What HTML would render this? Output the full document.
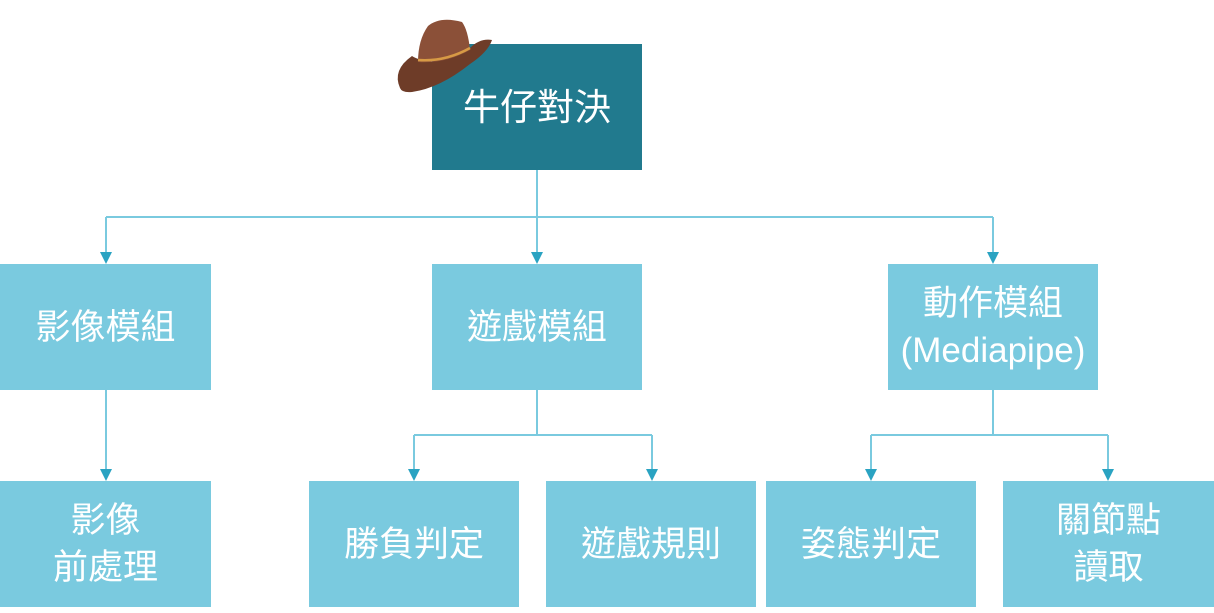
<!DOCTYPE html>
<html><head><meta charset="utf-8"><style>
body{margin:0;width:1214px;height:613px;background:#fff;position:relative;overflow:hidden;font-family:"Liberation Sans","Noto Sans CJK TC",sans-serif}
.b{position:absolute;display:flex;align-items:center;justify-content:center;text-align:center;color:#fff;font-size:35px;line-height:47px;background:#7ACADF}
.d{background:#217A8E;font-size:37px}
svg{position:absolute;left:0;top:0}
</style></head><body>
<svg width="1214" height="613">
<g stroke="#7ACADF" stroke-width="2" fill="none">
<path d="M537 170V255M106 217H993M106 217V255M993 217V255"/>
<path d="M106 390V472"/>
<path d="M537 390V435M414 435H652M414 435V472M652 435V472"/>
<path d="M993 390V435M871 435H1108M871 435V472M1108 435V472"/>
</g>
<g fill="#2AA3C2">
<path d="M100 252h12l-6 12z"/><path d="M531 252h12l-6 12z"/><path d="M987 252h12l-6 12z"/>
<path d="M100 469h12l-6 12z"/><path d="M408 469h12l-6 12z"/><path d="M646 469h12l-6 12z"/>
<path d="M865 469h12l-6 12z"/><path d="M1102 469h12l-6 12z"/>
</g>
</svg>
<div class="b d" style="left:432px;top:44px;width:210px;height:126px">牛仔對決</div>
<div class="b" style="left:0;top:264px;width:211px;height:126px">影像模組</div>
<div class="b" style="left:432px;top:264px;width:210px;height:126px">遊戲模組</div>
<div class="b" style="left:888px;top:264px;width:210px;height:126px">動作模組<br>(Mediapipe)</div>
<div class="b" style="left:0;top:481px;width:211px;height:126px">影像<br>前處理</div>
<div class="b" style="left:309px;top:481px;width:210px;height:126px">勝負判定</div>
<div class="b" style="left:546px;top:481px;width:210px;height:126px">遊戲規則</div>
<div class="b" style="left:766px;top:481px;width:210px;height:126px">姿態判定</div>
<div class="b" style="left:1003px;top:481px;width:211px;height:126px">關節點<br>讀取</div>
<svg width="1214" height="613" style="pointer-events:none">
<path d="M400 88 Q392 70 412 56 Q418 60 432 62 L470 48 Q480 38 492 40 Q488 52 470 64 Q440 88 412 92 Q402 93 400 88Z" fill="#6E3C28"/>
<path d="M418 62 Q418 40 428 26 Q440 16 462 22 Q468 30 470 50 Q445 64 418 62Z" fill="#8B5038"/>
<path d="M418 60 Q445 62 470 48" stroke="#D79A45" stroke-width="2.5" fill="none"/>
</svg>
</body></html>
